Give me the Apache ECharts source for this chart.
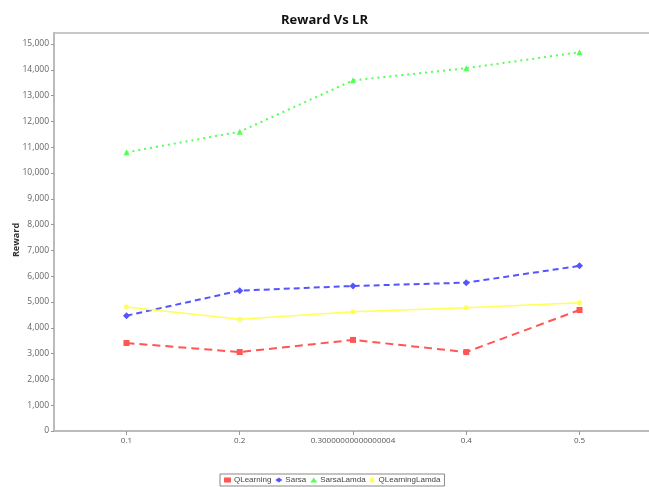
<!DOCTYPE html>
<html>
<head>
<meta charset="utf-8">
<script src="https://cdn.jsdelivr.net/npm/echarts@6/dist/echarts.min.js"></script>
<style>html,body{margin:0;padding:0;background:#fff;}#c{width:649px;height:487px;}</style>
</head>
<body>
<div id="c"></div>
<script>
var xValues = [0.1, 0.2, 0.3, 0.4, 0.5];
var xLabels = ['0.1', '0.2', '0.30000000000000004', '0.4', '0.5'];
var yTicks = [0,1000,2000,3000,4000,5000,6000,7000,8000,9000,10000,11000,12000,13000,14000,15000];
var seriesNames = ['QLearning', 'Sarsa', 'SarsaLamda', 'QLearningLamda'];
var qLearning = [3410, 3060, 3530, 3060, 4690];
var sarsa = [4470, 5440, 5620, 5750, 6400];
var sarsaLamda = [10800, 11600, 13590, 14060, 14680];
var qLearningLamda = [4810, 4330, 4620, 4780, 4970];

function pairs(vals){ return xValues.map(function(x,i){ return [x, vals[i]]; }); }
function fmtLabel(v){
  for (var i=0;i<xValues.length;i++){ if (Math.abs(v-xValues[i])<1e-9) return xLabels[i]; }
  return '';
}
var chart = echarts.init(document.getElementById('c'), null, {renderer:'canvas'});
chart.setOption({
  backgroundColor:'#fff',
  animation:false,
  title:{text:'Reward Vs LR', left:'center', top:9, textStyle:{fontFamily:'Open Sans', fontWeight:'bold', fontSize:13, color:'#111'}},
  grid:{left:54, right:-3, top:33, bottom:56, show:true, borderColor:'#c8c8c8', borderWidth:2, backgroundColor:'#fff', outerBoundsMode:'none', containLabel:false},
  legend:{
    bottom:1, left:220, itemWidth:7, itemHeight:5, itemGap:4,
    borderColor:'#888', borderWidth:1, padding:[2,4], borderRadius:0,
    textStyle:{fontFamily:'Liberation Sans', fontSize:8, color:'#444', padding:[0,0,0,-2]},
    data:[
      {name:seriesNames[0], icon:'rect'},
      {name:seriesNames[1], icon:'diamond'},
      {name:seriesNames[2], icon:'triangle'},
      {name:seriesNames[3], icon:'circle'}
    ]
  },
  xAxis:{
    type:'value', min:0.036, max:0.564,
    axisLine:{show:true, lineStyle:{color:'#bbb', width:2}},
    axisTick:{show:true, customValues:xValues, length:4, lineStyle:{color:'#999'}},
    axisLabel:{customValues:xValues, formatter:fmtLabel, fontFamily:'Open Sans', fontSize:8, color:'#555', margin:6},
    splitLine:{show:false}
  },
  yAxis:{
    type:'value', min:0, max:15425, interval:1000,
    name:'Reward', nameLocation:'middle', nameGap:33, nameRotate:90, nameMoveOverlap:false,
    nameTextStyle:{fontFamily:'Open Sans', fontWeight:'bold', fontSize:9, color:'#333', padding:[0,16,0,0]},
    axisLine:{show:true, lineStyle:{color:'#bbb', width:2}},
    axisTick:{show:true, customValues:yTicks, length:3, lineStyle:{color:'#999'}},
    axisLabel:{customValues:yTicks, formatter:function(v){return v.toLocaleString('en-US');}, fontFamily:'Open Sans', fontSize:8.5, color:'#666', margin:5},
    splitLine:{show:false}
  },
  series:[
    {name:seriesNames[0], type:'line', data:pairs(qLearning), symbol:'rect', symbolSize:6,
     itemStyle:{color:'#ff5555'}, lineStyle:{color:'#ff5555', width:2, type:[8,5]}},
    {name:seriesNames[1], type:'line', data:pairs(sarsa), symbol:'diamond', symbolSize:7,
     itemStyle:{color:'#5555ff'}, lineStyle:{color:'#5555ff', width:2, type:[6,4]}},
    {name:seriesNames[2], type:'line', data:pairs(sarsaLamda), symbol:'triangle', symbolSize:6,
     itemStyle:{color:'#55ff55'}, lineStyle:{color:'#55ff55', width:2, type:[2,4]}},
    {name:seriesNames[3], type:'line', data:pairs(qLearningLamda), symbol:'circle', symbolSize:5,
     itemStyle:{color:'#ffff55'}, lineStyle:{color:'#ffff55', width:1.5, type:'solid'}}
  ]
});
</script>
</body>
</html>
